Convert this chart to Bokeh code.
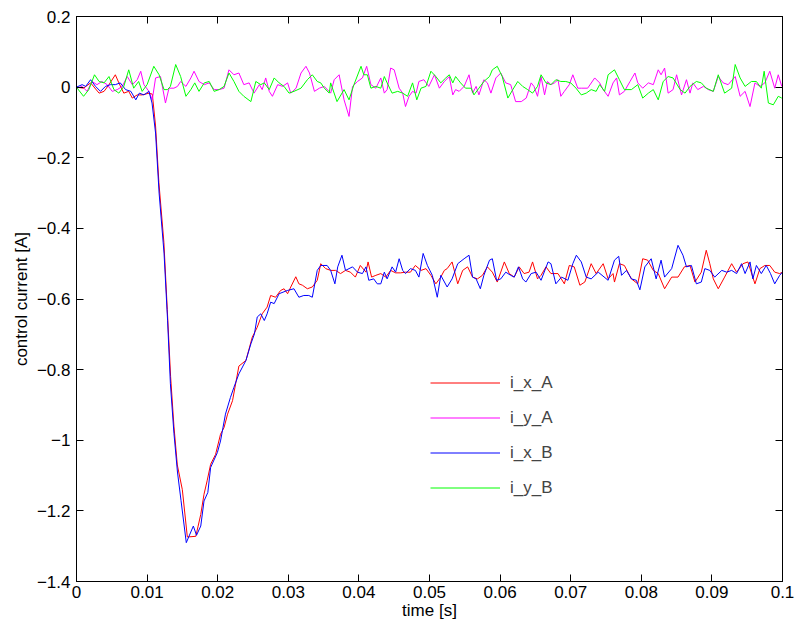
from bokeh.plotting import figure
from bokeh.models import (FixedTicker, LinearAxis, Legend, LegendItem, Range1d,
                          CustomLabelingPolicy)
from bokeh.embed import file_html
from bokeh.resources import INLINE

FONT = "Liberation Sans"

# ---------------- data (time in ms, current in A) ----------------
t_ixA = [0.0, 1.0, 2.0, 3.2, 3.9, 4.6, 5.5, 6.0, 6.7, 7.4, 7.9, 8.6, 9.3, 10.3, 10.74,
         11.2, 11.67, 12.38, 12.86, 13.33, 13.8, 14.28, 14.99, 15.7, 16.9, 17.6, 18.06,
         18.5, 19.0, 19.7, 20.4, 20.9, 21.4, 22.1, 23.0, 24.0, 24.9, 25.6, 26.3, 27.0,
         27.5, 28.2, 28.9, 29.4, 29.9, 30.35, 31.06, 31.5, 32.0, 32.7, 33.4, 34.1, 34.6,
         35.3, 36.0, 36.7, 37.4, 38.1, 38.8, 39.5, 40.2, 41.0, 41.3, 41.8, 42.4, 43.1,
         43.8, 44.5, 45.2, 45.9, 46.6, 47.3, 48.0, 48.8, 49.5, 50.2, 50.9, 51.6, 52.1,
         52.5, 53.2, 54.0, 54.7, 55.4, 56.1, 56.8, 57.5, 58.2, 58.9, 59.6, 60.6, 61.3,
         62.0, 62.7, 63.4, 64.1, 64.6, 65.3, 65.8, 66.5, 67.2, 68.2, 69.1, 69.8, 70.5,
         71.3, 72.0, 72.9, 73.6, 74.6, 75.3, 76.0, 76.2, 76.9, 77.6, 78.6, 79.5, 80.2,
         80.9, 81.7, 82.4, 83.3, 84.3, 85.2, 86.1, 86.9, 87.6, 88.5, 89.2, 89.7, 90.2,
         90.9, 91.8, 92.8, 93.5, 94.4, 95.1, 96.1, 96.8, 97.5, 98.2, 98.9, 99.6, 100.0]
i_x_A = [0.0, -0.003, 0.012, -0.017, -0.012, 0.007, 0.035, 0.012, -0.017, -0.012, -0.031,
         -0.022, -0.022, -0.017, -0.02, -0.11, -0.27, -0.44, -0.63, -0.82, -0.96, -1.07,
         -1.14, -1.274, -1.272, -1.21, -1.153, -1.115, -1.068, -1.04, -0.983, -0.964,
         -0.926, -0.888, -0.79, -0.774, -0.708, -0.68, -0.642, -0.623, -0.59, -0.595,
         -0.576, -0.571, -0.585, -0.566, -0.537, -0.557, -0.561, -0.571, -0.566, -0.547,
         -0.500, -0.514, -0.519, -0.519, -0.528, -0.519, -0.524, -0.538, -0.505, -0.524,
         -0.495, -0.538, -0.533, -0.528, -0.538, -0.519, -0.526, -0.526, -0.524, -0.524,
         -0.505, -0.519, -0.514, -0.533, -0.557, -0.538, -0.519, -0.514, -0.495, -0.557,
         -0.519, -0.509, -0.538, -0.543, -0.533, -0.509, -0.524, -0.552, -0.495, -0.528,
         -0.538, -0.509, -0.528, -0.524, -0.495, -0.543, -0.533, -0.509, -0.528, -0.528,
         -0.557, -0.505, -0.509, -0.561, -0.552, -0.500, -0.528, -0.500, -0.543, -0.528,
         -0.552, -0.500, -0.505, -0.543, -0.557, -0.486, -0.490, -0.519, -0.528, -0.571,
         -0.538, -0.538, -0.509, -0.505, -0.552, -0.524, -0.462, -0.500, -0.543, -0.571,
         -0.538, -0.500, -0.524, -0.500, -0.495, -0.557, -0.514, -0.505, -0.505, -0.524,
         -0.528, -0.524]

t_iyA = [0.0, 0.1, 0.8, 1.5, 2.2, 2.9, 3.6, 4.35, 5.06, 5.77, 6.48, 7.19, 7.9, 8.6, 9.1,
         9.55, 10.26, 10.73, 11.2, 11.9, 12.6, 13.1, 13.8, 14.3, 14.75, 15.5, 16.2, 16.65,
         17.35, 18.1, 18.8, 19.5, 20.2, 20.9, 21.6, 22.3, 23.0, 23.7, 24.45, 25.15, 25.9,
         26.3, 26.8, 27.3, 27.75, 28.5, 29.2, 29.9, 30.35, 31.1, 31.8, 32.5, 33.0, 33.7,
         34.4, 35.1, 36.0, 36.5, 37.2, 37.9, 38.6, 39.1, 39.8, 40.5, 41.1, 41.7, 42.4,
         43.1, 43.6, 44.0, 44.5, 45.0, 45.7, 46.2, 46.6, 47.1, 47.6, 48.1, 48.5, 49.2,
         49.9, 50.7, 51.4, 52.1, 52.8, 53.3, 53.7, 54.2, 54.9, 55.6, 56.1, 56.6, 57.0,
         57.7, 58.2, 58.7, 59.4, 60.1, 60.8, 61.5, 62.2, 63.0, 63.7, 64.4, 64.8, 65.3,
         65.8, 66.3, 66.7, 67.2, 67.7, 68.2, 68.6, 69.1, 69.8, 70.3, 71.0, 71.5, 72.4,
         73.4, 74.1, 74.6, 75.3, 76.0, 76.5, 76.9, 77.6, 78.4, 79.1, 79.5, 80.2, 81.0,
         81.7, 82.4, 82.8, 83.3, 83.8, 84.5, 85.0, 85.7, 86.4, 86.9, 87.3, 88.0, 88.8,
         89.5, 90.2, 90.9, 91.6, 92.3, 93.3, 94.0, 94.7, 95.4, 96.1, 96.8, 97.5, 98.2,
         98.9, 99.4, 99.9]
i_y_A = [0.0, -0.003, 0.002, -0.012, 0.016, 0.007, 0.016, 0.007, -0.012, -0.007, 0.002,
         0.030, 0.007, 0.021, 0.045, 0.007, -0.012, -0.036, 0.026, 0.030, -0.045, -0.003,
         -0.003, 0.002, 0.016, 0.002, 0.026, 0.045, 0.016, 0.007, 0.012, -0.007, -0.007,
         -0.003, 0.049, 0.035, 0.040, 0.007, 0.012, -0.017, 0.007, -0.007, 0.026, -0.012,
         -0.026, 0.007, 0.002, 0.012, -0.017, -0.003, 0.040, 0.059, 0.040, -0.012, -0.003,
         0.002, -0.017, 0.021, 0.035, -0.036, -0.083, 0.002, 0.016, 0.026, 0.059, 0.007,
         -0.003, 0.026, -0.017, -0.007, 0.054, 0.049, -0.003, -0.017, -0.055, -0.026,
         -0.012, -0.017, 0.016, 0.021, 0.002, 0.035, -0.003, 0.016, 0.030, -0.022, -0.007,
         -0.012, 0.002, 0.035, -0.017, 0.002, -0.022, 0.021, 0.012, -0.017, 0.026, 0.040,
         0.012, 0.007, -0.041, -0.041, -0.031, 0.012, 0.002, -0.026, 0.030, -0.022, 0.016,
         0.007, 0.012, 0.021, -0.026, -0.012, 0.007, 0.035, -0.003, -0.003, -0.003, 0.026,
         0.012, -0.007, -0.026, 0.012, 0.026, -0.022, -0.012, 0.016, 0.040, 0.012, -0.003,
         0.012, 0.007, 0.049, 0.035, 0.054, -0.017, -0.007, 0.035, -0.022, 0.021, -0.017,
         0.012, -0.007, 0.002, -0.007, -0.012, 0.030, 0.012, 0.007, 0.030, -0.026, -0.012,
         -0.055, 0.012, 0.002, 0.012, 0.045, -0.003, 0.035, 0.002]

t_ixB = [0.0, 0.8, 1.3, 2.0, 2.7, 3.4, 4.1, 4.8, 5.5, 6.2, 6.95, 7.7, 8.4, 8.9, 9.55, 10.26,
         10.7, 11.2, 11.7, 12.4, 12.9, 13.3, 13.8, 14.3, 14.8, 15.55, 16.55, 17.0, 17.6,
         18.06, 18.6, 19.0, 19.95, 20.4, 21.1, 21.8, 22.3, 23.0, 24.0, 24.7, 25.2, 25.6,
         26.1, 26.6, 27.0, 27.5, 28.0, 28.7, 29.85, 30.8, 31.5, 32.2, 32.9, 33.4, 34.1,
         34.6, 35.5, 36.0, 36.6, 37.0, 37.6, 38.1, 39.1, 39.8, 40.5, 41.0, 41.4, 42.1,
         42.6, 43.1, 43.6, 44.0, 44.7, 45.2, 45.7, 46.2, 46.6, 47.3, 48.0, 48.5, 49.1,
         49.7, 50.4, 51.1, 51.6, 52.5, 53.2, 54.0, 54.9, 55.6, 56.1, 56.6, 57.2, 57.7,
         58.5, 58.9, 59.5, 60.1, 60.8, 61.5, 62.0, 62.6, 63.2, 63.65, 64.4, 65.1, 65.8,
         66.8, 67.2, 67.9, 68.7, 69.6, 70.3, 70.8, 71.5, 72.2, 72.9, 73.9, 75.3, 76.2,
         76.8, 77.2, 77.9, 78.6, 79.3, 79.8, 80.5, 81.4, 82.1, 82.8, 83.3, 84.3, 85.2,
         85.9, 86.4, 87.1, 87.8, 88.5, 89.0, 89.7, 90.4, 91.4, 92.1, 92.8, 93.5, 94.2,
         94.7, 95.4, 95.8, 96.3, 97.0, 97.7, 98.3, 98.9, 99.6, 100.0]
i_x_B = [0.0, 0.007, 0.002, 0.021, 0.002, -0.012, 0.002, 0.007, 0.007, 0.012, -0.007,
         -0.012, -0.036, -0.017, -0.022, -0.012, -0.045, -0.13, -0.30, -0.47, -0.66,
         -0.84, -0.98, -1.09, -1.17, -1.29, -1.243, -1.269, -1.243, -1.172, -1.148,
         -1.077, -1.035, -1.002, -0.926, -0.879, -0.85, -0.812, -0.774, -0.727, -0.699,
         -0.651, -0.642, -0.661, -0.642, -0.609, -0.613, -0.585, -0.576, -0.571, -0.595,
         -0.590, -0.590, -0.595, -0.519, -0.505, -0.505, -0.519, -0.557, -0.509, -0.476,
         -0.519, -0.509, -0.524, -0.528, -0.509, -0.547, -0.543, -0.557, -0.557, -0.524,
         -0.543, -0.509, -0.524, -0.486, -0.519, -0.528, -0.514, -0.519, -0.538, -0.471,
         -0.505, -0.533, -0.595, -0.533, -0.566, -0.543, -0.500, -0.486, -0.476, -0.538,
         -0.543, -0.571, -0.533, -0.490, -0.486, -0.547, -0.543, -0.524, -0.533, -0.538,
         -0.509, -0.543, -0.552, -0.528, -0.524, -0.547, -0.495, -0.500, -0.557, -0.538,
         -0.547, -0.500, -0.476, -0.495, -0.538, -0.543, -0.524, -0.547, -0.490, -0.479,
         -0.533, -0.519, -0.543, -0.547, -0.574, -0.509, -0.486, -0.543, -0.490, -0.538,
         -0.514, -0.448, -0.476, -0.509, -0.505, -0.557, -0.552, -0.514, -0.519, -0.538,
         -0.519, -0.524, -0.519, -0.528, -0.500, -0.528, -0.495, -0.543, -0.505, -0.528,
         -0.505, -0.528, -0.557, -0.533, -0.524]

t_iyB = [0.0, 0.1, 1.0, 1.75, 2.55, 3.2, 3.9, 4.6, 5.3, 6.0, 6.7, 7.4, 8.1, 8.8, 9.3, 10.0,
         10.95, 11.7, 12.4, 12.9, 13.3, 14.05, 14.75, 15.5, 16.2, 16.75, 17.35, 18.1, 18.8,
         19.5, 20.2, 20.9, 21.6, 22.3, 23.0, 23.7, 24.7, 25.4, 26.1, 26.6, 27.3, 28.0,
         28.7, 29.4, 30.1, 30.8, 31.8, 32.7, 33.4, 34.1, 34.6, 35.1, 35.8, 36.0, 36.9,
         37.9, 38.6, 39.3, 40.3, 40.7, 41.2, 41.7, 42.4, 43.1, 43.6, 44.0, 44.7, 45.5,
         46.2, 46.9, 47.6, 48.2, 48.8, 49.5, 50.2, 50.9, 51.6, 52.3, 52.8, 53.3, 53.7,
         54.4, 55.1, 55.9, 56.3, 57.0, 57.7, 58.5, 58.9, 59.6, 60.3, 61.1, 61.8, 62.5,
         63.2, 63.9, 64.6, 65.3, 65.8, 66.5, 67.2, 67.9, 68.6, 69.3, 70.0, 70.75, 71.5,
         72.2, 72.9, 73.6, 74.1, 74.8, 75.3, 76.2, 76.9, 77.6, 78.6, 79.5, 80.2, 81.0,
         81.7, 82.4, 83.1, 83.8, 84.5, 85.5, 86.2, 86.9, 87.8, 88.5, 89.2, 90.2, 90.9,
         91.8, 92.8, 93.3, 94.0, 94.7, 95.6, 96.3, 97.0, 97.4, 98.0, 98.7, 99.4, 99.9]
i_y_B = [0.0, -0.003, -0.026, -0.007, 0.035, 0.016, 0.012, 0.030, -0.007, -0.017, 0.002,
         0.049, -0.003, 0.016, -0.012, 0.007, 0.059, 0.035, -0.007, -0.007, 0.002, 0.064,
         0.030, -0.026, -0.007, 0.012, -0.012, 0.012, 0.016, -0.012, -0.007, 0.002, 0.040,
         0.016, -0.012, -0.026, -0.041, 0.016, 0.007, 0.012, -0.007, 0.026, 0.012, 0.002,
         -0.017, -0.012, -0.003, 0.021, 0.035, 0.016, 0.012, -0.003, -0.017, 0.012, -0.041,
         -0.007, -0.036, 0.007, 0.059, 0.035, 0.035, -0.003, 0.002, -0.003, 0.030, 0.012,
         -0.017, -0.012, -0.017, -0.026, 0.012, -0.036, -0.003, 0.002, 0.045, 0.030, 0.012,
         0.026, 0.035, 0.012, 0.030, 0.012, -0.003, -0.003, -0.022, -0.003, 0.016, 0.030,
         0.049, 0.059, 0.030, -0.031, -0.007, 0.016, 0.002, -0.007, -0.017, 0.002, 0.035,
         0.012, 0.007, 0.021, 0.016, 0.016, 0.012, -0.003, -0.022, -0.017, -0.007, -0.012,
         0.007, -0.012, 0.035, 0.049, 0.021, -0.007, -0.007, 0.007, -0.031, -0.017, -0.007,
         -0.036, 0.016, 0.030, 0.026, -0.007, -0.017, 0.002, 0.016, 0.012, -0.003, -0.012,
         0.035, -0.017, -0.003, 0.064, 0.026, 0.002, 0.016, 0.016, -0.003, 0.045, -0.045,
         -0.050, -0.026, -0.031]

series_names = ["i_x_A", "i_y_A", "i_x_B", "i_y_B"]
series_colors = ["#ff0000", "#ff00ff", "#0000ff", "#00ff00"]

x_ticks = [0, 0.01, 0.02, 0.03, 0.04, 0.05, 0.06, 0.07, 0.08, 0.09, 0.1]
x_tick_labels = ["0", "0.01", "0.02", "0.03", "0.04", "0.05", "0.06", "0.07", "0.08", "0.09", "0.1"]
y_ticks = [0.2, 0, -0.2, -0.4, -0.6, -0.8, -1, -1.2, -1.4]
y_tick_labels = ["0.2", "0", "\u22120.2", "\u22120.4", "\u22120.6", "\u22120.8", "\u22121", "\u22121.2", "\u22121.4"]

# ---------------- figure ----------------
p = figure(width=797, height=623, output_backend="svg", toolbar_location=None,
           x_range=Range1d(0, 0.1), y_range=Range1d(-1.4, 0.2),
           min_border_left=76, min_border_right=15, min_border_top=16, min_border_bottom=42)
p.outline_line_color = "black"
p.outline_line_width = 1
p.grid.visible = False
p.background_fill_color = "white"
p.border_fill_color = "white"

def style_axis(ax, ticks, labels, show_labels):
    ax.ticker = FixedTicker(ticks=ticks)
    ax.major_tick_in = 7
    ax.major_tick_out = 0
    ax.minor_tick_line_color = None
    ax.axis_line_color = "black"
    ax.major_tick_line_color = "black"
    if show_labels:
        ax.major_label_overrides = dict(zip(ticks, labels))
        ax.major_label_text_font = FONT
        ax.major_label_text_font_size = "17px"
        ax.major_label_text_color = "black"
        ax.axis_label_text_font = FONT
        ax.axis_label_text_font_size = "17px"
        ax.axis_label_text_font_style = "normal"
        ax.axis_label_text_color = "black"
    else:
        # mirrored axes: tick marks only, no labels and no reserved label space
        ax.major_label_text_font_size = "0px"
        ax.major_label_policy = CustomLabelingPolicy(code="return []")
        ax.major_label_standoff = 0

style_axis(p.xaxis[0], x_ticks, x_tick_labels, True)
style_axis(p.yaxis[0], y_ticks, y_tick_labels, True)
p.xaxis[0].axis_label = "time [s]"
p.xaxis[0].major_label_standoff = 4
p.xaxis[0].axis_label_standoff = 0
p.yaxis[0].axis_label = "control current [A]"
p.yaxis[0].major_label_standoff = 6
p.yaxis[0].axis_label_standoff = 3

top_ax = LinearAxis()
style_axis(top_ax, x_ticks, x_tick_labels, False)
p.add_layout(top_ax, "above")
right_ax = LinearAxis()
style_axis(right_ax, y_ticks, y_tick_labels, False)
p.add_layout(right_ax, "right")

times = [t_ixA, t_iyA, t_ixB, t_iyB]
values = [i_x_A, i_y_A, i_x_B, i_y_B]
items = []
for name, color, tt, vv in zip(series_names, series_colors, times, values):
    r = p.line([t / 1000.0 for t in tt], vv, line_color=color, line_width=1)
    items.append(LegendItem(label=name, renderers=[r]))

legend = Legend(items=items, location=(354, 81), border_line_color=None,
                background_fill_alpha=0, glyph_width=70, glyph_height=25,
                label_height=25, label_standoff=10, spacing=10, padding=0, margin=0,
                label_text_font=FONT, label_text_font_size="17px")
p.add_layout(legend)

open("out.html", "w").write(file_html(p, INLINE))
